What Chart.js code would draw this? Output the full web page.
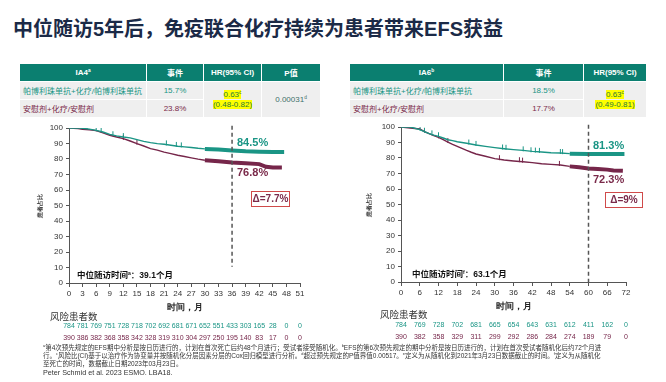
<!DOCTYPE html>
<html>
<head>
<meta charset="utf-8">
<script src="https://cdn.jsdelivr.net/npm/chart.js@4.4.0/dist/chart.umd.min.js"></script>
<style>
  body { margin: 0; width: 666px; height: 382px; background: #fff; position: relative; overflow: hidden;
         font-family: "Liberation Sans", "Noto Sans CJK SC", sans-serif; }
  .abs { position: absolute; white-space: nowrap; }
  canvas { position: absolute; }
  .title { left: 13px; top: 13px; font-size: 20px; font-weight: bold; color: #1b2a47; }
  table.km { position: absolute; border-collapse: separate; border-spacing: 0; table-layout: fixed; font-size: 8px; }
  table.km th { background: #0b7f70; color: #fff; font-weight: bold; height: 17px; padding: 0;
                border-right: 1px solid #fff; text-align: center; }
  table.km td { background: #efefef; height: 17px; padding: 0; border-right: 1px solid #fff;
                border-top: 1px solid #fff; text-align: center; }
  table.km th:last-child, table.km td.last { border-right: none; }
  td.arm { text-align: left !important; padding-left: 3px !important; }
  .teal { color: #1a9585; }
  .maroon { color: #7a2a4a; }
  .hl { background: #ffff00; color: #2b7a3b; line-height: 10px; }
  sup { font-size: 60%; vertical-align: 3px; line-height: 0; }
  .pct { font-size: 11px; font-weight: bold; }
  .delta { border: 1px solid #d04a4a; background: #fff; font-size: 10px; font-weight: bold; color: #7a2a4a;
           text-align: center; line-height: 14px; box-sizing: border-box; }
  .median { font-size: 8.5px; font-weight: bold; color: #111; }
  .risk { font-size: 9.5px; color: #333; }
  .foot { left: 43px; font-size: 6.5px; color: #333; line-height: 8px; }
</style>
</head>
<body>
<div class="abs title">中位随访5年后，免疫联合化疗持续为患者带来EFS获益</div>

<table class="km" style="left:20px; top:64px; width:300px;">
  <colgroup><col style="width:127px"><col style="width:57px"><col style="width:58px"><col style="width:58px"></colgroup>
  <tr><th>IA4<sup>a</sup></th><th>事件</th><th>HR(95% CI)</th><th>P值</th></tr>
  <tr><td class="arm teal">帕博利珠单抗+化疗/帕博利珠单抗</td><td class="teal">15.7%</td>
      <td rowspan="2"><span class="hl">0.63<sup>c</sup></span><br><span class="hl">(0.48-0.82)</span></td>
      <td rowspan="2" class="last" style="color:#3f6f6a">0.00031<sup>d</sup></td></tr>
  <tr><td class="arm maroon">安慰剂+化疗/安慰剂</td><td class="maroon">23.8%</td></tr>
</table>

<table class="km" style="left:350px; top:64px; width:296px;">
  <colgroup><col style="width:154px"><col style="width:80px"><col style="width:62px"></colgroup>
  <tr><th>IA6<sup>b</sup></th><th>事件</th><th>HR(95% CI)</th></tr>
  <tr><td class="arm teal">帕博利珠单抗+化疗/帕博利珠单抗</td><td class="teal">18.5%</td>
      <td rowspan="2" class="last"><span class="hl">0.63<sup>c</sup></span><br><span class="hl">(0.49-0.81)</span></td></tr>
  <tr><td class="arm maroon">安慰剂+化疗/安慰剂</td><td class="maroon">17.7%</td></tr>
</table>

<canvas id="leftChart" width="333" height="226" style="left:0; top:118px;"></canvas>
<canvas id="rightChart" width="333" height="226" style="left:333px; top:118px;"></canvas>

<div class="abs pct teal" style="left:237px; top:136px;">84.5%</div>
<div class="abs pct maroon" style="left:237px; top:166px;">76.8%</div>
<div class="abs delta" style="left:251px; top:191px; width:39px; height:16px;">Δ=7.7%</div>
<div class="abs median" style="left:77px; top:268px;">中位随访时间<sup>a</sup>：39.1个月</div>
<div class="abs risk" style="left:50px; top:309px;">风险患者数</div>

<div class="abs pct teal" style="left:593px; top:139px;">81.3%</div>
<div class="abs pct maroon" style="left:593px; top:173px;">72.3%</div>
<div class="abs delta" style="left:605px; top:192px; width:38px; height:16px;">Δ=9%</div>
<div class="abs median" style="left:412px; top:267px;">中位随访时间<sup>f</sup>：63.1个月</div>
<div class="abs risk" style="left:380px; top:307px;">风险患者数</div>

<div class="abs foot" style="top:344px;"><sup>a</sup>第4次预先规定的EFS期中分析是按日历进行的，计划在首次死亡后约48个月进行；受试者接受随机化。<sup>b</sup>EFS的第6次预先规定的期中分析是按日历进行的，计划在首次受试者随机化后约72个月进</div>
<div class="abs foot" style="top:352px;">行。<sup>c</sup>风险比(CI)基于以治疗作为协变量并按随机化分层因素分层的Cox回归模型进行分析。<sup>d</sup>超过预先规定的P值界值0.00517。<sup>e</sup>定义为从随机化到2021年3月23日数据截止的时间。<sup>f</sup>定义为从随机化</div>
<div class="abs foot" style="top:360px;">至死亡的时间，数据截止日期2023年03月23日。</div>
<div class="abs foot" style="top:369px; font-size:7.2px;">Peter Schmid et al. 2023 ESMO. LBA18.</div>

<script>
const TEAL = "#1a9585";
const MAROON = "#76264a";

// IA4 (left) curves
const leftPembroMonths = [0, 2.4, 4.5, 6, 7.5, 9, 10.5, 12, 13.5, 15, 16.5, 18, 19.5, 21, 22.5, 24, 25.5, 27, 28.5, 30, 33, 36, 39, 42, 45, 47.5];
const leftPembroPct = [100, 100, 99.3, 98.5, 97.4, 95.9, 94.9, 94.2, 93.6, 92.5, 91.4, 90.6, 89.9, 89.5, 88.9, 88.2, 87.8, 87.4, 86.9, 86.5, 86.1, 85.5, 85.0, 84.7, 84.5, 84.5];
const leftPlaceboMonths = [0, 2, 3, 4.5, 6, 7.5, 9, 10.5, 12, 13.5, 15, 16.5, 18, 19.5, 21, 22.5, 24, 25.5, 27, 28.5, 30, 33, 36, 39, 42, 43.5, 45, 47];
const leftPlaceboPct = [100, 99.6, 99.1, 98.9, 98.3, 96.8, 95.3, 94.2, 93.1, 91.6, 89.9, 88.4, 86.7, 85.7, 84.4, 83.5, 82.4, 81.6, 80.7, 79.9, 79.2, 78.6, 77.7, 77.3, 76.7, 75.0, 74.5, 74.5];
const leftPembroCensor = [[2.7, 100.8], [4, 100.6], [6, 99.4], [7.1, 98.6], [9.7, 96.3], [12, 95.1], [21.5, 90.4], [23.7, 89.4], [24.8, 89.1]];
const leftPlaceboCensor = [[12, 93.9], [15, 90.8]];
const leftRiskMonths = [0, 3, 6, 9, 12, 15, 18, 21, 24, 27, 30, 33, 36, 39, 42, 45, 48, 51];
const leftRiskPembro = [784, 781, 769, 751, 728, 718, 702, 692, 681, 671, 652, 551, 433, 303, 165, 28, 0, 0];
const leftRiskPlacebo = [390, 386, 382, 368, 358, 342, 328, 319, 310, 304, 297, 250, 195, 140, 83, 17, 0, 0];

// IA6 (right) curves
const rightPembroMonths = [0, 3, 6, 7.5, 9, 10.5, 12, 13.5, 15, 16.5, 18, 21, 24, 27, 30, 33, 36, 39, 42, 45, 48, 51, 54, 60, 66, 71.5];
const rightPembroPct = [100, 100, 98.3, 97, 95.7, 94.8, 94, 92.9, 91.8, 91.2, 90.5, 89.5, 88.4, 87.5, 86.7, 86, 85.4, 84.9, 84.3, 83.9, 83.4, 83.2, 82.8, 82.6, 82.6, 82.6];
const rightPlaceboMonths = [0, 3, 6, 7.5, 9, 10.5, 12, 13.5, 15, 16.5, 18, 19.5, 21, 22.5, 24, 27, 30, 33, 36, 39, 42, 45, 48, 51, 54, 57, 60, 63, 66, 68, 71];
const rightPlaceboPct = [100, 99.4, 98.7, 97, 95.7, 94.4, 93.3, 91.8, 90.3, 88.8, 87.5, 86.2, 84.9, 83.7, 82.6, 81.1, 79.6, 78.7, 78.1, 77.6, 77, 76.3, 75.9, 75.5, 74.6, 74, 73.3, 72.9, 72.5, 72, 71.8];
const rightPembroCensor = [[2.9, 100.8], [6.1, 99.3], [7.5, 97.9], [9.9, 96.2], [12, 95], [21.7, 90.3], [24, 89.4], [32.5, 87.1], [33.6, 86.9], [39.1, 85.9], [41.6, 85.3], [43, 85.1], [44.3, 84.9], [51, 84.2], [51.7, 84.1]];
const rightPlaceboCensor = [[12, 94.3], [15, 91.3], [31.5, 80.2], [37.9, 78.9], [38.9, 78.6], [50.7, 76.5]];
const rightRiskMonths = [0, 6, 12, 18, 24, 30, 36, 42, 48, 54, 60, 66, 72];
const rightRiskPembro = [784, 769, 728, 702, 681, 665, 654, 643, 631, 612, 411, 162, 0];
const rightRiskPlacebo = [390, 382, 358, 329, 311, 299, 292, 286, 284, 274, 189, 79, 0];

const toPoints = (xs, ys) => xs.map((x, i) => ({ x: x, y: ys[i] }));
const censorPoints = (arr) => arr.map(p => ({ x: p[0], y: p[1] }));

// risk numbers + dashed landmark line
const kmExtras = {
  id: "kmExtras",
  afterDraw(chart, args, opts) {
    const { ctx, scales: { x, y } } = chart;
    ctx.save();
    ctx.strokeStyle = "#555";
    ctx.lineWidth = 1.5;
    ctx.setLineDash([4, 3]);
    const cx = x.getPixelForValue(opts.cut);
    ctx.beginPath();
    ctx.moveTo(cx, y.getPixelForValue(101.5));
    ctx.lineTo(cx, y.getPixelForValue(opts.cutTo));
    ctx.stroke();
    ctx.setLineDash([]);
    ctx.font = '7px "Liberation Sans", sans-serif';
    ctx.textAlign = "center";
    ctx.textBaseline = "middle";
    opts.rows.forEach(row => {
      ctx.fillStyle = row.color;
      row.values.forEach((v, i) => {
        ctx.fillText(String(v), x.getPixelForValue(opts.months[i]), row.y);
      });
    });
    ctx.restore();
  }
};

function makeKM(id, cfg) {
  const thick = (from, w) => ({ borderWidth: c => (c.p0.parsed.x >= from ? w : 1.4) });
  new Chart(document.getElementById(id), {
    type: "line",
    data: {
      datasets: [
        { data: toPoints(cfg.pembroX, cfg.pembroY), borderColor: TEAL, borderWidth: 1.4, pointRadius: 0, segment: thick(cfg.bandFrom[0], 4) },
        { data: toPoints(cfg.placeboX, cfg.placeboY), borderColor: MAROON, borderWidth: 1.4, pointRadius: 0, segment: thick(cfg.bandFrom[1], 4) },
        { type: "scatter", data: censorPoints(cfg.pembroCensor), pointStyle: "line", rotation: 90, pointRadius: 2.5, borderColor: TEAL, borderWidth: 1 },
        { type: "scatter", data: censorPoints(cfg.placeboCensor), pointStyle: "line", rotation: 90, pointRadius: 2.5, borderColor: MAROON, borderWidth: 1 }
      ]
    },
    options: {
      responsive: false,
      animation: false,
      layout: { padding: cfg.padding },
      plugins: {
        legend: { display: false },
        tooltip: { enabled: false },
        kmExtras: {
          cut: cfg.cut, cutTo: cfg.cutTo, months: cfg.riskMonths,
          rows: [
            { values: cfg.riskPembro, color: TEAL, y: cfg.riskY[0] },
            { values: cfg.riskPlacebo, color: MAROON, y: cfg.riskY[1] }
          ]
        }
      },
      scales: {
        x: {
          type: "linear", min: 0, max: cfg.xMax,
          afterFit: s => { s.height = 30; },
          ticks: { stepSize: cfg.xStep, color: "#333", font: { size: 8 }, padding: 2, maxRotation: 0 },
          grid: { drawOnChartArea: false, drawTicks: true, tickLength: 4, color: "#555" },
          border: { color: "#555", width: 1 },
          title: { display: true, text: "时间，月", color: "#222", font: { size: 9, weight: "bold" }, padding: 0 }
        },
        y: {
          min: 0, max: 100,
          afterFit: s => { s.width = cfg.yWidth; },
          ticks: { stepSize: 10, color: "#333", font: { size: 8 }, padding: 3 },
          grid: { drawOnChartArea: false, drawTicks: true, tickLength: 3, color: "#555" },
          border: { color: "#555", width: 1 },
          title: { display: true, text: "患者占比", color: "#333", font: { size: 6, weight: "bold" }, padding: { top: 7, bottom: 0 } }
        }
      }
    },
    plugins: [kmExtras]
  });
}

makeKM("leftChart", {
  pembroX: leftPembroMonths, pembroY: leftPembroPct,
  placeboX: leftPlaceboMonths, placeboY: leftPlaceboPct,
  pembroCensor: leftPembroCensor, placeboCensor: leftPlaceboCensor,
  bandFrom: [29.3, 30],
  riskMonths: leftRiskMonths, riskPembro: leftRiskPembro, riskPlacebo: leftRiskPlacebo,
  riskY: [208, 220],
  cut: 36, cutTo: 10.5,
  xMax: 51, xStep: 3, yWidth: 39,
  padding: { left: 30, right: 33, top: 10, bottom: 31 }
});

makeKM("rightChart", {
  pembroX: rightPembroMonths, pembroY: rightPembroPct,
  placeboX: rightPlaceboMonths, placeboY: rightPlaceboPct,
  pembroCensor: rightPembroCensor, placeboCensor: rightPlaceboCensor,
  bandFrom: [53.3, 53.3],
  riskMonths: rightRiskMonths, riskPembro: rightRiskPembro, riskPlacebo: rightRiskPlacebo,
  riskY: [207, 219],
  cut: 60, cutTo: 0,
  xMax: 72, xStep: 6, yWidth: 42,
  padding: { left: 26, right: 40, top: 9, bottom: 32 }
});
</script>
</body>
</html>
